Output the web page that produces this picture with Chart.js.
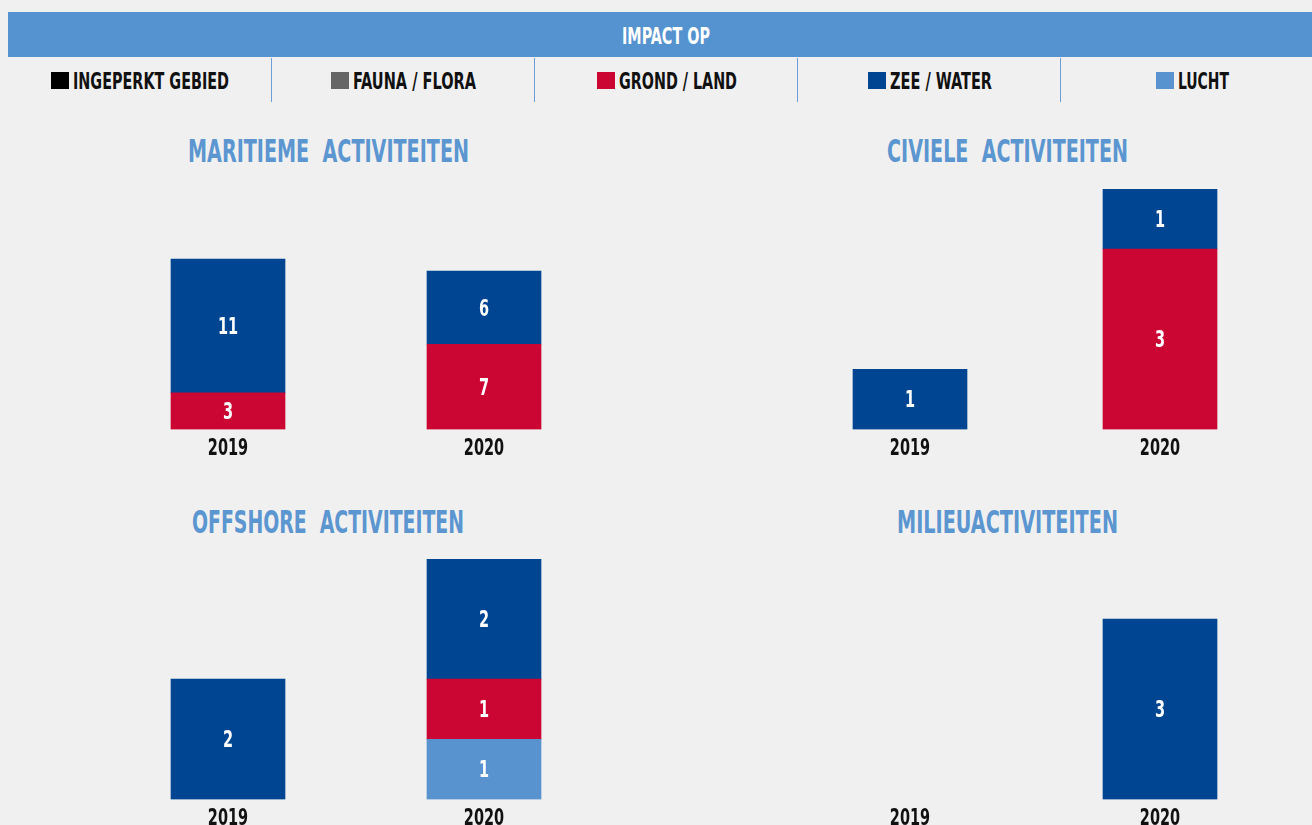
<!DOCTYPE html>
<html>
<head>
<meta charset="utf-8">
<script src="https://cdn.jsdelivr.net/npm/chart.js@4.4.1/dist/chart.umd.min.js"></script>
<style>
  body {
    margin: 0; width: 1312px; height: 825px; overflow: hidden; position: relative;
    background: #f0f0f0;
    font-family: "Liberation Sans Narrow", "DejaVu Sans Condensed", "Liberation Sans", sans-serif;
    font-weight: bold;
  }
  .header { position: absolute; left: 8px; top: 12px; width: 1315px; height: 45px; background: #5592d0; }
  .header .box { position: absolute; left: 614px; top: 2px; width: 88px; height: 45px; line-height: 45px; color: #fff; font-size: 23px; }
  .cell { position: absolute; top: 58px; width: 263px; height: 44px; display: flex; align-items: center; justify-content: center; }
  .cell + .cell { border-left: 1px solid #6c9fd6; }
  .sq { width: 18px; height: 17px; margin-right: 4px; flex: none; }
  .lbl { display: inline-block; font-size: 23px; line-height: 23px; color: #111; white-space: nowrap; position: relative; top: 1px; }
  .fit { display: inline-block; white-space: pre; transform-origin: 0 50%; }
  .title { position: absolute; font-size: 32px; line-height: 32px; color: #5b96d1; white-space: nowrap; }
  canvas { position: absolute; }
</style>
</head>
<body>
<div class="header"><div class="box"><span class="fit">IMPACT OP</span></div></div>
<div id="legend"></div>
<div id="panels"></div>

<script>
// Data
const years = ['2019', '2020']
const seriesNames = ['INGEPERKT GEBIED', 'FAUNA / FLORA', 'GROND / LAND', 'ZEE / WATER', 'LUCHT']
const seriesColors = ['#000000', '#666666', '#cc0633', '#004592', '#5893d0']

const maritiemeGrond = [3, 7]
const maritiemeZee = [11, 6]
const civieleGrond = [0, 3]
const civieleZee = [1, 1]
const offshoreLucht = [0, 1]
const offshoreGrond = [0, 1]
const offshoreZee = [2, 2]
const milieuZee = [0, 3]

// bottom-up stacking order (indices into seriesNames)
const stackOrder = [4, 2, 3, 1, 0]

const FONT = '"Liberation Sans Narrow", "DejaVu Sans Condensed", "Liberation Sans", sans-serif'
const SQUEEZE = 0.7   // condensed look for canvas text

const panels = [
    { title: 'MARITIEME  ACTIVITEITEN', max: 20, values: { 2: maritiemeGrond, 3: maritiemeZee },
      titleBox: [188, 135, 281], canvas: [0, 110, 656], pad: [100, 44, 76] },
    { title: 'CIVIELE  ACTIVITEITEN', max: 4, values: { 2: civieleGrond, 3: civieleZee },
      titleBox: [887, 135, 241], canvas: [703, 110, 609], pad: [82, 27, 79] },
    { title: 'OFFSHORE  ACTIVITEITEN', max: 4, values: { 4: offshoreLucht, 2: offshoreGrond, 3: offshoreZee },
      titleBox: [192, 506, 272], canvas: [0, 480, 656], pad: [100, 44, 79] },
    { title: 'MILIEUACTIVITEITEN', max: 4, values: { 3: milieuZee },
      titleBox: [897, 506, 221], canvas: [703, 480, 609], pad: [82, 27, 79] }
]

// Legend
const legendWidths = [156, 123, 118, 102, 51]
const legend = document.getElementById('legend')
seriesNames.forEach((name, i) => {
    const cell = document.createElement('div')
    cell.className = 'cell'
    cell.style.left = (8 + 263 * i) + 'px'
    cell.innerHTML = `<i class="sq" style="background:${seriesColors[i]}"></i>` +
        `<span class="lbl" style="width:${legendWidths[i]}px"><span class="fit">${name}</span></span>`
    legend.appendChild(cell)
})

// Titles
const panelHost = document.getElementById('panels')
panels.forEach(p => {
    const t = document.createElement('div')
    t.className = 'title'
    t.style.left = p.titleBox[0] + 'px'
    t.style.top = p.titleBox[1] + 'px'
    t.style.width = p.titleBox[2] + 'px'
    t.innerHTML = `<span class="fit">${p.title}</span>`
    panelHost.appendChild(t)
})

// squeeze text to the condensed widths of the original
document.querySelectorAll('.fit').forEach(el => {
    const target = el.parentElement.getBoundingClientRect().width
    const w = el.getBoundingClientRect().width
    el.style.transform = `scaleX(${target / w})`
})

function squeezedText(ctx, text, x, y) {
    ctx.save()
    ctx.translate(x, y)
    ctx.scale(SQUEEZE, 1)
    ctx.fillText(text, 0, 0)
    ctx.restore()
}

// Value labels inside the bar segments + condensed year labels under the x axis
const barLabels = {
    id: 'barLabels',
    afterDatasetsDraw(chart) {
        const ctx = chart.ctx
        ctx.save()
        ctx.font = `bold 23px ${FONT}`
        ctx.textAlign = 'center'
        ctx.textBaseline = 'middle'
        ctx.fillStyle = '#ffffff'
        chart.data.datasets.forEach((ds, di) => {
            const meta = chart.getDatasetMeta(di)
            meta.data.forEach((bar, i) => {
                const v = ds.data[i]
                if (!v) return
                squeezedText(ctx, String(v), bar.x, (bar.y + bar.base) / 2 + 2)
            })
        })

        const xScale = chart.scales.x
        ctx.fillStyle = '#111111'
        xScale.ticks.forEach((tick, i) => {
            squeezedText(ctx, xScale.getLabelForValue(tick.value), xScale.getPixelForTick(i), chart.chartArea.bottom + 20)
        })
        ctx.restore()
    }
}

Chart.register(barLabels)

panels.forEach(p => {
    const canvas = document.createElement('canvas')
    canvas.width = p.canvas[2]
    canvas.height = 360
    canvas.style.left = p.canvas[0] + 'px'
    canvas.style.top = p.canvas[1] + 'px'
    panelHost.appendChild(canvas)

    const datasets = stackOrder.map(si => ({
        label: seriesNames[si],
        data: (p.values[si] || [0, 0]).map(v => v === 0 ? null : v),
        backgroundColor: seriesColors[si],
        borderWidth: 0,
        barThickness: 114
    }))

    new Chart(canvas.getContext('2d'), {
        type: 'bar',
        data: { labels: years, datasets },
        options: {
            responsive: false,
            animation: false,
            devicePixelRatio: 1,
            layout: { padding: { left: p.pad[0], right: p.pad[1], top: p.pad[2], bottom: 5 } },
            plugins: { legend: { display: false }, tooltip: { enabled: false } },
            scales: {
                x: {
                    stacked: true,
                    grid: { display: false, drawTicks: false },
                    border: { display: false },
                    // tick text is painted condensed by the plugin above
                    ticks: { color: 'rgba(0,0,0,0)', padding: 4, font: { family: FONT, size: 23, weight: 'bold' } }
                },
                y: { stacked: true, display: false, min: 0, max: p.max }
            }
        }
    })
})
</script>
</body>
</html>
